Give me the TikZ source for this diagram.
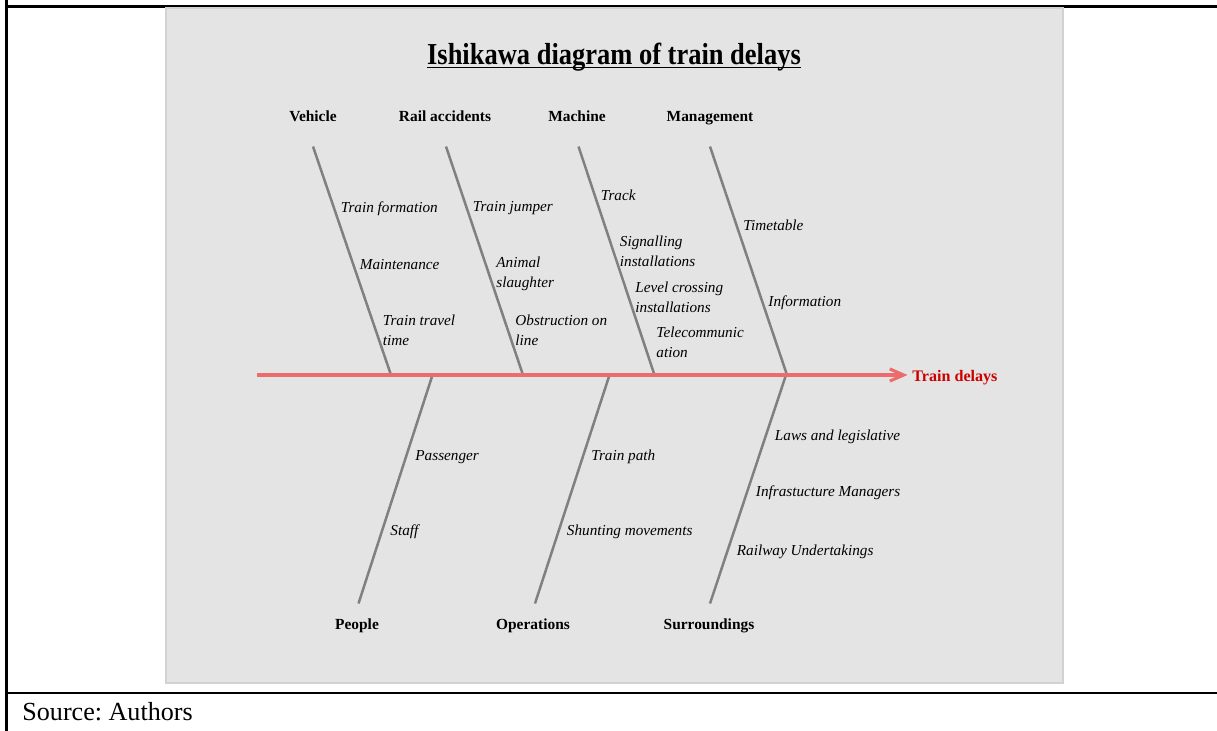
\documentclass[tikz,border=0pt]{standalone}
\usepackage{fontspec}
\setmainfont{Liberation Serif}
\usepackage{tikz}
\usetikzlibrary{arrows.meta}
\usepackage{xcolor}
\definecolor{spinered}{HTML}{EC6B6B}
\definecolor{effectred}{HTML}{CC0000}
\definecolor{bonegray}{HTML}{808080}
\definecolor{panelgray}{HTML}{E4E4E4}
\definecolor{panelline}{HTML}{D2D2D2}
\frenchspacing

\begin{document}
\begin{tikzpicture}[x=0.46pt,y=-0.46pt,line cap=butt,
  framerule/.style={black,line width=0.95pt},
  panelbox/.style={fill=panelgray,draw=panelline,line width=0.5pt},
  bone/.style={bonegray,line width=1.15pt},
  spine/.style={spinered,line width=1.4pt,-{Straight Barb[length=6.4pt,width=5.6pt]}},
  catlabel/.style={font=\fontsize{7.1}{8.5}\selectfont\bfseries,inner sep=0,anchor=base},
  causetext/.style={font=\fontsize{7}{9.2}\selectfont\itshape,anchor=west,inner sep=0,align=left}]
\useasboundingbox (0,0) rectangle (1217,731);
\draw[framerule] (6.5,6.5) -- (1217,6.5);
\draw[framerule] (6.5,0) -- (6.5,731);
\draw[framerule] (6.5,693) -- (1217,693);
\draw[panelbox] (166,8) rectangle (1063,683);
\node[font=\fontsize{14}{16}\selectfont\bfseries,inner sep=0,anchor=base,xscale=0.87] (title) at (614,64) {Ishikawa diagram of train delays};
\draw[line width=0.9pt] ([yshift=-1.6pt]title.base west) -- ([yshift=-1.6pt]title.base east);
\node[anchor=base west,font=\fontsize{12}{14}\selectfont,inner sep=0] (src) at (22,720) {Source: Authors};
\node[catlabel] (veh) at (313,121) {Vehicle};
\node[catlabel] (rail) at (445,121) {Rail accidents};
\node[catlabel] (mach) at (577,121) {Machine};
\node[catlabel] (mgmt) at (710,121) {Management};
\node[catlabel] (ppl) at (357,629) {People};
\node[catlabel] (ops) at (533,629) {Operations};
\node[catlabel] (surr) at (709,629) {Surroundings};
\coordinate (vehT) at (313,146.5);
\coordinate (vehB) at (391,375);
\coordinate (railT) at (446,146.5);
\coordinate (railB) at (523,375);
\coordinate (machT) at (578.5,146.5);
\coordinate (machB) at (654.5,375);
\coordinate (mgmtT) at (710,146.5);
\coordinate (mgmtB) at (787,375);
\coordinate (pplT) at (432.5,375);
\coordinate (pplB) at (358.5,603.5);
\coordinate (opsT) at (609.5,375);
\coordinate (opsB) at (535,603.5);
\coordinate (surrT) at (786,375);
\coordinate (surrB) at (710,603.5);
\draw[bone] (vehT) -- (vehB);
\draw[bone] (railT) -- (railB);
\draw[bone] (machT) -- (machB);
\draw[bone] (mgmtT) -- (mgmtB);
\draw[bone] (pplT) -- (pplB);
\draw[bone] (opsT) -- (opsB);
\draw[bone] (surrT) -- (surrB);
\coordinate (spineL) at (257,375);
\coordinate (spineR) at (907.5,375);
\draw[spine] (spineL) -- (spineR);
\node[anchor=west,inner sep=0,text=effectred,font=\fontsize{7.4}{9}\selectfont\bfseries] (effect) at (912,377.5) {Train delays};
\node[causetext] (c11) at (340.5,209) {Train formation};
\node[causetext] (c12) at (359.5,265) {Maintenance};
\node[causetext] (c13) at (382.5,330) {Train travel\\time};
\node[causetext] (c21) at (472.5,208) {Train jumper};
\node[causetext] (c22) at (496,274) {Animal\\slaughter};
\node[causetext] (c23) at (515,330) {Obstruction on\\line};
\node[causetext] (c31) at (600.5,195.5) {Track};
\node[causetext] (c32) at (619.5,251) {Signalling\\installations};
\node[causetext] (c33) at (635,297) {Level crossing\\installations};
\node[causetext] (c34) at (656,342) {Telecommunic\\ation};
\node[causetext] (c41) at (743,225.5) {Timetable};
\node[causetext] (c42) at (768,303) {Information};
\node[causetext] (c51) at (415,457) {Passenger};
\node[causetext] (c52) at (390,532) {Staff};
\node[causetext] (c61) at (591,457) {Train path};
\node[causetext] (c62) at (566.5,532) {Shunting movements};
\node[causetext] (c71) at (774.5,437) {Laws and legislative};
\node[causetext] (c72) at (755.5,493) {Infrastucture Managers};
\node[causetext] (c73) at (736.5,552) {Railway Undertakings};
\end{tikzpicture}
\end{document}
